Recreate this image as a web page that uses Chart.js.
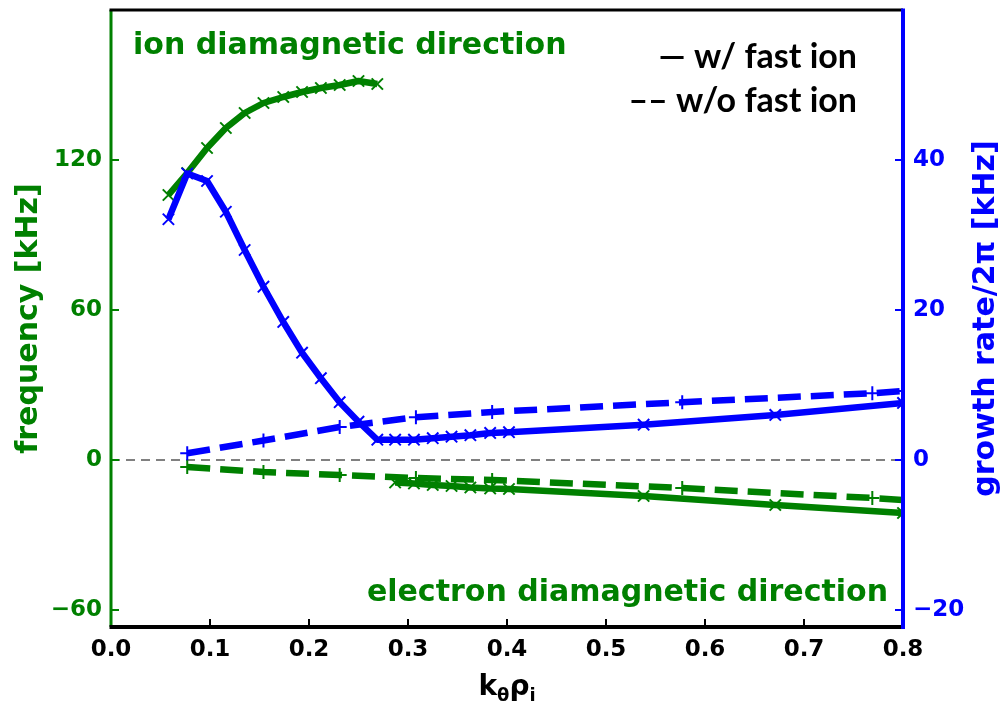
<!DOCTYPE html>
<html>
<head>
<meta charset="utf-8">
<title>frequency and growth rate scan</title>
<script src="https://cdn.jsdelivr.net/npm/chart.js@4.4.0/dist/chart.umd.min.js"></script>
<style>
  html, body { margin: 0; padding: 0; background: #fff; }
  #wrap { width: 1002px; height: 705px; }
</style>
</head>
<body>
<div id="wrap"><canvas id="myChart" width="1002" height="705"></canvas></div>
<script>
'use strict';
// k_theta rho_i scan with fast ions (x markers)
let kWith = [0.058, 0.077, 0.097, 0.116, 0.135, 0.154, 0.174, 0.193, 0.212, 0.231, 0.250, 0.269,
             0.287, 0.306, 0.325, 0.344, 0.363, 0.383, 0.402, 0.538, 0.671, 0.800];
// real frequency [kHz], ion direction branch (first 12 k values)
let freqWithIon = [106, 114.8, 124.8, 132.8, 138.8, 142.8, 145.2, 147.2, 148.8, 150, 151.6, 150.4];
// real frequency [kHz], electron direction branch (remaining k values)
let freqWithElec = [-9.0, -9.4, -10.0, -10.4, -11.0, -11.4, -11.6, -14.4, -18.0, -21.2];
// growth rate / 2pi [kHz]
let growthWith = [32.1, 38.2, 37.2, 33.1, 28.0, 23.1, 18.4, 14.3, 10.9, 7.7, 5.1, 2.7,
                  2.7, 2.7, 2.9, 3.1, 3.3, 3.6, 3.7, 4.7, 6.0, 7.6];

// same scan without fast ions (+ markers)
let kWithout = [0.077, 0.154, 0.231, 0.308, 0.385, 0.577, 0.769, 0.800];
let freqWithout = [-2.8, -4.8, -6.0, -7.2, -8.0, -11.2, -15.2, -16.0];
let growthWithout = [0.9, 2.6, 4.4, 5.7, 6.4, 7.7, 8.9, 9.2];

let xTicks = [0, 0.1, 0.2, 0.3, 0.4, 0.5, 0.6, 0.7, 0.8];
let freqTicks = [-60, 0, 60, 120];
let growthTicks = [-20, 0, 20, 40];

let green = '#008000';
let blue = '#0000ff';
let boldFont = '"DejaVu Sans", sans-serif';

function toPoints(xs, ys) {
    return ys.map(function (y, i) { return { x: xs[i], y: y }; });
}

function lineSet(label, pts, axis, color, dashed, order) {
    return {
        label: label,
        data: pts,
        yAxisID: axis,
        order: order,
        borderColor: color,
        backgroundColor: color,
        borderWidth: 6.5,
        borderDash: dashed ? [23, 10] : [],
        borderCapStyle: 'butt',
        borderJoinStyle: 'round',
        pointStyle: dashed ? 'cross' : 'crossRot',
        pointRadius: dashed ? 7 : 8,
        pointBorderWidth: 2,
        pointBorderColor: color,
        pointBackgroundColor: color,
        tension: 0,
        fill: false
    };
}

function minusLabel(v) {
    return v < 0 ? '\u2212' + Math.abs(v) : String(v);
}

// keep the plot box fixed: no extra room for half tick labels
function noPad(s) {
    s.paddingTop = 0;
    s.paddingBottom = 0;
    s.paddingLeft = 0;
    s.paddingRight = 0;
}

// spines, inward tick marks and all free text
let framePlugin = {
    id: 'frame',
    afterDatasetsDraw(chart) {
        let ctx = chart.ctx;
        let a = chart.chartArea;
        let sx = chart.scales.x, s1 = chart.scales.y1, s2 = chart.scales.y2;
        function seg(x1, y1, x2, y2) {
            ctx.beginPath();
            ctx.moveTo(x1, y1);
            ctx.lineTo(x2, y2);
            ctx.stroke();
        }
        ctx.save();
        ctx.lineWidth = 2;
        ctx.strokeStyle = '#000';
        xTicks.forEach(function (v) {
            let px = sx.getPixelForValue(v);
            seg(px, a.bottom, px, a.bottom - 8);
        });
        ctx.strokeStyle = green;
        freqTicks.forEach(function (v) {
            let py = s1.getPixelForValue(v);
            seg(a.left, py, a.left + 8, py);
        });
        ctx.strokeStyle = blue;
        growthTicks.forEach(function (v) {
            let py = s2.getPixelForValue(v);
            seg(a.right, py, a.right - 8, py);
        });

        ctx.lineWidth = 3;
        ctx.strokeStyle = green;
        seg(a.left, a.top, a.left, a.bottom);
        ctx.strokeStyle = '#000';
        seg(a.left - 1.5, a.top, a.right, a.top);
        ctx.lineWidth = 4;
        seg(a.left - 1.5, a.bottom, a.right, a.bottom);
        ctx.strokeStyle = blue;
        seg(a.right, a.top - 1.5, a.right, a.bottom + 2);
        ctx.restore();
    },
    afterDraw(chart) {
        let ctx = chart.ctx;
        let a = chart.chartArea;
        let midY = (a.top + a.bottom) / 2;
        ctx.save();
        ctx.textBaseline = 'alphabetic';
        ctx.fillStyle = green;
        ctx.font = 'bold 30px ' + boldFont;
        ctx.textAlign = 'left';
        ctx.fillText('ion diamagnetic direction', 133, 54);
        ctx.textAlign = 'right';
        ctx.fillText('electron diamagnetic direction', 888, 601);

        ctx.fillStyle = '#000';
        ctx.font = 'bold 34px Lato, "Open Sans", sans-serif';
        ctx.fillText('\u2014 w/ fast ion', 857, 68);
        ctx.fillText('\u2013\u2013 w/o fast ion', 857, 112);

        // axis titles, both reading bottom to top
        ctx.textAlign = 'center';
        ctx.textBaseline = 'middle';
        ctx.font = 'bold 30px ' + boldFont;
        ctx.save();
        ctx.translate(29, midY);
        ctx.rotate(-Math.PI / 2);
        ctx.fillStyle = green;
        ctx.fillText('frequency [kHz]', 0, 0);
        ctx.restore();
        ctx.save();
        ctx.translate(986, midY);
        ctx.rotate(-Math.PI / 2);
        ctx.fillStyle = blue;
        ctx.fillText('growth rate/2\u03c0 [kHz]', 0, 0);
        ctx.restore();

        // x title k_theta rho_i with subscripts
        let parts = [['k', 28, 0], ['\u03b8', 18, 6], ['\u03c1', 28, 0], ['i', 18, 6]];
        let total = 0;
        parts.forEach(function (p) {
            ctx.font = 'bold ' + p[1] + 'px ' + boldFont;
            total += ctx.measureText(p[0]).width;
        });
        let x = (a.left + a.right) / 2 - total / 2;
        ctx.textAlign = 'left';
        ctx.textBaseline = 'alphabetic';
        ctx.fillStyle = '#000';
        parts.forEach(function (p) {
            ctx.font = 'bold ' + p[1] + 'px ' + boldFont;
            ctx.fillText(p[0], x, 695 + p[2]);
            x += ctx.measureText(p[0]).width;
        });
        ctx.restore();
    }
};

let ctx = document.getElementById('myChart').getContext('2d');
let myChart = new Chart(ctx, {
    type: 'line',
    data: {
        datasets: [
            {
                label: 'zero',
                data: [{ x: 0, y: 0 }, { x: 0.8, y: 0 }],
                yAxisID: 'y1',
                order: 10,
                borderColor: '#808080',
                borderWidth: 2,
                borderDash: [9, 6],
                pointRadius: 0,
                fill: false
            },
            lineSet('frequency w/ fast ion', toPoints(kWith.slice(0, 12), freqWithIon), 'y1', green, false, 6),
            lineSet('frequency w/ fast ion (electron)', toPoints(kWith.slice(12), freqWithElec), 'y1', green, false, 5),
            lineSet('frequency w/o fast ion', toPoints(kWithout, freqWithout), 'y1', green, true, 4),
            lineSet('growth rate w/ fast ion', toPoints(kWith, growthWith), 'y2', blue, false, 3),
            lineSet('growth rate w/o fast ion', toPoints(kWithout, growthWithout), 'y2', blue, true, 2)
        ]
    },
    options: {
        responsive: false,
        animation: false,
        devicePixelRatio: 1,
        layout: { padding: { top: 10, left: 0, right: 0, bottom: 0 } },
        plugins: {
            legend: { display: false },
            tooltip: { enabled: false }
        },
        scales: {
            x: {
                type: 'linear',
                min: 0,
                max: 0.8,
                grid: { display: false, drawTicks: false },
                border: { display: false },
                ticks: {
                    color: '#000',
                    font: { family: boldFont, weight: 'bold', size: 23 },
                    padding: 9,
                    maxRotation: 0,
                    autoSkip: false,
                    callback: function (v) { return v.toFixed(1); }
                },
                afterBuildTicks: function (s) { s.ticks = xTicks.map(function (v) { return { value: v }; }); },
                afterFit: function (s) { s.height = 78; noPad(s); }
            },
            y1: {
                type: 'linear',
                position: 'left',
                min: -66.8,
                max: 180,
                grid: { display: false, drawTicks: false },
                border: { display: false },
                ticks: {
                    color: green,
                    font: { family: boldFont, weight: 'bold', size: 23 },
                    padding: 9,
                    callback: minusLabel
                },
                afterBuildTicks: function (s) { s.ticks = freqTicks.map(function (v) { return { value: v }; }); },
                afterFit: function (s) { s.width = 111; noPad(s); }
            },
            y2: {
                type: 'linear',
                position: 'right',
                min: -22.27,
                max: 60,
                grid: { display: false, drawTicks: false },
                border: { display: false },
                ticks: {
                    color: blue,
                    font: { family: boldFont, weight: 'bold', size: 23 },
                    padding: 10,
                    callback: minusLabel
                },
                afterBuildTicks: function (s) { s.ticks = growthTicks.map(function (v) { return { value: v }; }); },
                afterFit: function (s) { s.width = 99; noPad(s); }
            }
        }
    },
    plugins: [framePlugin]
});
</script>
</body>
</html>
